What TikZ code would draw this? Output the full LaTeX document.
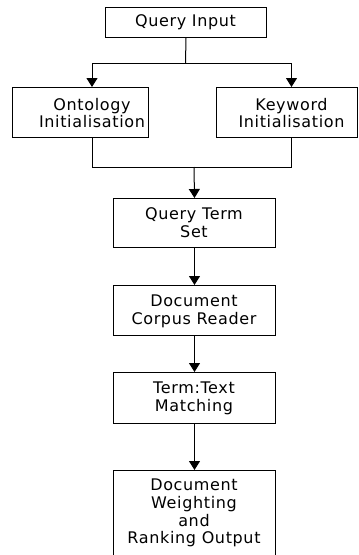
\documentclass[tikz,border=0pt]{standalone}
\usepackage{fontspec}
\setmainfont{DejaVu Sans}[LetterSpace=4]
\usetikzlibrary{arrows.meta}
\begin{document}
\begin{tikzpicture}[x=1pt,y=-1pt,
  box/.style={draw, line width=1pt, inner sep=0pt, anchor=north west},
  txt/.style={align=center, font=\fontsize{16}{17.7}\selectfont, inner sep=0pt},
  wire/.style={line width=1pt},
  flow/.style={wire, -{Triangle[length=9pt,width=11pt]}}]
\useasboundingbox (0,0) rectangle (359,555);

% process boxes
\node[box, minimum width=161pt, minimum height=30pt] (qi)  at (105,7)   {};
\node[box, minimum width=136pt, minimum height=50pt] (ont) at (12,87)   {};
\node[box, minimum width=141pt, minimum height=50pt] (kw)  at (216,87)  {};
\node[box, minimum width=162pt, minimum height=49pt] (qts) at (113,198) {};
\node[box, minimum width=162pt, minimum height=50pt] (dcr) at (113,285) {};
\node[box, minimum width=162pt, minimum height=51pt] (ttm) at (113,372) {};
\node[box, minimum width=162pt, minimum height=92pt] (dwr) at (113,470) {};

% box texts
\node[txt] (qit)  at (185.5,22)  {Query Input};
\node[txt] (ontt) at (92,113)    {Ontology\\Initialisation};
\node[txt] (kwt)  at (291.5,113) {Keyword\\Initialisation};
\node[txt] (qtst) at (194,223)   {Query Term\\Set};
\node[txt] (dcrt) at (194,311)   {Document\\Corpus Reader};
\node[txt] (ttmt) at (194,398)   {Term:Text\\Matching};
\node[txt] (dwrt) at (194,513)   {Document\\Weighting\\and\\Ranking Output};

% connectors
\coordinate (split) at (185.5,63);
\coordinate (join)  at (194,167);
\draw[wire] (qi.south) -- (split);
\draw[flow] (split) -| (ont.north -| ontt);
\draw[flow] (split) -| (kw.north -| kwt);
\draw[wire] (ont.south -| ontt) |- (join);
\draw[wire] (kw.south -| kwt) |- (join);
\draw[flow] (join) -- (qts.north);
\draw[flow] (qts.south) -- (dcr.north);
\draw[flow] (dcr.south) -- (ttm.north);
\draw[flow] (ttm.south) -- (dwr.north);
\end{tikzpicture}
\end{document}
